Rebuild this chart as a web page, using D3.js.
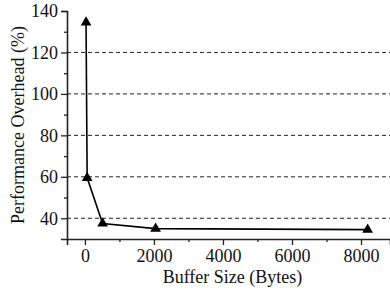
<!DOCTYPE html>
<html lang="en">
<head>
<meta charset="utf-8">
<title>Buffer size vs performance overhead</title>
<script src="https://cdn.jsdelivr.net/npm/d3@7"></script>
<style>
  body { margin: 0; background: #fff; }
  svg text { font-family: serif !important; font-size: 18px !important; fill: #111; }
</style>
</head>
<body>
<svg id="plot" width="390" height="293"></svg>
<script>
// values
const bufferSizes = [32, 64, 512, 2048, 8192];
const overhead = [134.5, 59.5, 37.5, 35, 34.5];
const xTicks = [0, 2000, 4000, 6000, 8000];
const xMinor = [1000, 3000, 5000, 7000];
const yTicks = [40, 60, 80, 100, 120, 140];
const yMinor = [50, 70, 90, 110, 130];
const gridValues = [40, 60, 80, 100, 120];

const svg = d3.select("#plot");
const W = 390, H = 293;
const padLeft = 67, padTop = 11, padBottom = 54;

const x = d3.scaleLinear().domain([-520, 8840]).range([padLeft, W]);
const y = d3.scaleLinear().domain([30, 140]).range([H - padBottom, padTop]);

// dashed grid
svg.append("g").selectAll("line").data(gridValues).join("line")
  .attr("x1", padLeft).attr("x2", W)
  .attr("y1", d => y(d)).attr("y2", d => y(d))
  .attr("stroke", "#222").attr("stroke-width", 1)
  .attr("stroke-dasharray", "4,3");

// axes, major + minor ticks
svg.append("g").attr("transform", `translate(${padLeft},0)`)
  .call(d3.axisLeft(y).tickValues(yTicks).tickSize(6).tickPadding(3).tickFormat(d3.format("d")));
svg.append("g").attr("transform", `translate(${padLeft},0)`)
  .call(d3.axisLeft(y).tickValues(yMinor).tickSize(3).tickFormat(""))
  .select(".domain").remove();

svg.append("g").attr("transform", `translate(0,${H - padBottom})`)
  .call(d3.axisBottom(x).tickValues(xTicks).tickSize(6).tickPadding(4).tickFormat(d3.format("d")));
svg.append("g").attr("transform", `translate(0,${H - padBottom})`)
  .call(d3.axisBottom(x).tickValues(xMinor).tickSize(3).tickFormat(""))
  .select(".domain").remove();

// d3 puts font-family="sans-serif" on each axis group; drop it
svg.selectAll("g").attr("font-family", null).attr("font-size", null);
svg.selectAll(".domain").attr("stroke", "#222").attr("stroke-width", 1.6);
svg.selectAll(".tick line").attr("stroke", "#222").attr("stroke-width", 1.3);
svg.selectAll(".tick text").style("font-family", "serif");

// axis titles
svg.append("text")
  .attr("x", (padLeft + W) / 2 + 4).attr("y", H - 10)
  .attr("text-anchor", "middle").style("font-family", "serif")
  .text("Buffer Size (Bytes)");
svg.append("text")
  .attr("transform", `translate(24,${(y(30) + y(140)) / 2}) rotate(-90)`)
  .attr("text-anchor", "middle").style("font-family", "serif")
  .text("Performance Overhead (%)");

// the series
const pts = bufferSizes.map((b, i) => [b, overhead[i]]);
svg.append("path").datum(pts)
  .attr("fill", "none").attr("stroke", "#000").attr("stroke-width", 1.6)
  .attr("d", d3.line().x(d => x(d[0])).y(d => y(d[1])));

svg.append("g").selectAll("path").data(pts).join("path")
  .attr("transform", d => `translate(${x(d[0])},${y(d[1])})`)
  .attr("d", d3.symbol().type(d3.symbolTriangle).size(50))
  .attr("fill", "#000");
</script>
</body>
</html>
